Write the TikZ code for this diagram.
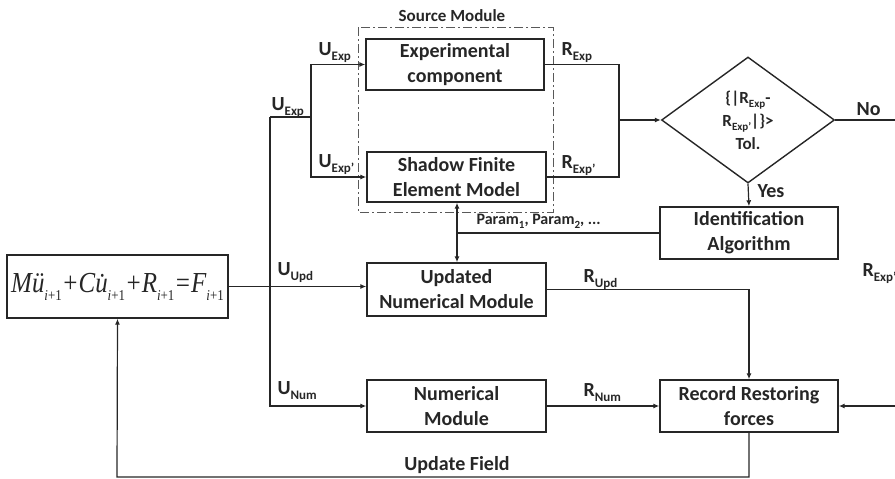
\documentclass[tikz,border=0pt]{standalone}
\usepackage{fontspec}
\setmainfont{Carlito}
\newfontfamily\tms{Liberation Serif}
\usetikzlibrary{arrows.meta,shapes.geometric}
\newcommand\sbs[1]{\raisebox{-0.28em}{\fontsize{13}{13}\selectfont #1}}
\newcommand\sbsm[1]{\raisebox{-0.28em}{\fontsize{11}{11}\selectfont #1}}
\newcommand\eqsub[1]{\raisebox{-0.28em}{\fontsize{15}{15}\selectfont\upshape #1}}
\begin{document}
\begin{tikzpicture}[x=1pt,y=-1pt,
  line width=1.2pt, draw=black!85,
  box/.style={draw, line width=1.4pt, rectangle, inner sep=0pt, align=center,
    font=\fontsize{20}{25}\selectfont\bfseries, text=black!85},
  lbl/.style={font=\fontsize{20}{22}\selectfont\bfseries, text=black!85, inner sep=0pt, anchor=base west},
  arr/.style={-{Latex[length=6pt,width=5pt]}}]
\useasboundingbox (0,0) rectangle (895,479);
% nodes
\node[box, minimum width=221pt, minimum height=63pt] (eq) at (117.5,286.5)
  {\tms\fontsize{29}{29}\selectfont\mdseries\itshape\scalebox{0.86}[1]{M\"u\eqsub{\textit{i}+1}+C\.u\eqsub{\textit{i}+1}+R\eqsub{\textit{i}+1}=F\eqsub{\textit{i}+1}}};
\node[box, minimum width=178pt, minimum height=51pt] (exp) at (455,64.5) {Experimental\\component};
\node[box, minimum width=179pt, minimum height=50pt] (sfe) at (456.5,177) {Shadow Finite\\Element Model};
\node[box, minimum width=179pt, minimum height=53pt] (upd) at (456.5,289.5) {Updated\\Numerical Module};
\node[box, minimum width=179pt, minimum height=52pt] (num) at (456.5,406) {Numerical\\Module};
\node[box, minimum width=178pt, minimum height=52pt] (rec) at (749,406) {Record Restoring\\forces};
\node[box, minimum width=178pt, minimum height=52pt] (ident) at (749,233) {Identification\\Algorithm};
\node[draw, diamond, line width=1.4pt, minimum width=173pt, minimum height=126pt, inner sep=0pt,
  shape aspect=1.4, align=center, text=black!85,
  font=\fontsize{17}{23}\selectfont\bfseries] (dia) at (748,120)
  {\{|R\sbsm{Exp}-\\R\sbsm{Exp’}|\}>\\Tol.};
% dash-dot source module frame
\draw[black!65, line width=1pt, dash pattern=on 9pt off 3pt on 2pt off 3pt] (358,27) rectangle (553,212);
\node[lbl, anchor=base, font=\fontsize{17}{17}\selectfont\bfseries] (srclbl) at (452,21) {Source Module};
% coordinates
\coordinate (c1) at (270,117);
\coordinate (c2) at (311,117);
\coordinate (j) at (619,120);
\coordinate (p) at (457,233);
\coordinate (noend) at (900,120);
\coordinate (rexpin) at (900,406);
\coordinate (b) at (117,477);
% connectors
\draw[arr] (eq.east) -- (eq.east -| upd.west);
\draw[arr] (c1) |- (num.west);
\draw (c1) -- (c2);
\draw[arr] (c2) |- (exp.west);
\draw[arr] (c2) |- (sfe.west);
\draw (exp.east) -| (j);
\draw (sfe.east) -| (j);
\draw[arr] (j) -- (dia.west);
\draw (dia.east) -- (noend);
\draw[arr] (dia.south) -- (ident.north);
\draw (ident.west) -- (p);
\draw[arr] (p) -- (p |- sfe.south);
\draw[arr] (p) -- (p |- upd.north);
\draw[arr] (upd.east) -| (rec.north);
\draw[arr] (num.east) -- (rec.west);
\draw[arr] (rexpin) -- (rec.east);
\draw[arr] (rec.south) |- (b) -- (eq.south);
% labels
\node[lbl] (l1) at (318,55) {U\sbs{Exp}};
\node[lbl] (l2) at (318,167) {U\sbs{Exp’}};
\node[lbl] (l3) at (271,110) {U\sbs{Exp}};
\node[lbl] (l4) at (277,275) {U\sbs{Upd}};
\node[lbl] (l5) at (277,394) {U\sbs{Num}};
\node[lbl] (l6) at (561,55) {R\sbs{Exp}};
\node[lbl] (l7) at (561,168) {R\sbs{Exp’}};
\node[lbl] (l8) at (856,115) {No};
\node[lbl] (l9) at (757,197) {Yes};
\node[lbl, font=\fontsize{16}{16}\selectfont\bfseries] (l10) at (476,224) {Param\sbsm{1}, Param\sbsm{2}, ...};
\node[lbl] (l11) at (583,282) {R\sbs{Upd}};
\node[lbl] (l12) at (583,396) {R\sbs{Num}};
\node[lbl] (l13) at (862,276) {R\sbs{Exp’}};
\node[lbl, anchor=base] (l14) at (457,470) {Update Field};
\end{tikzpicture}
\end{document}
